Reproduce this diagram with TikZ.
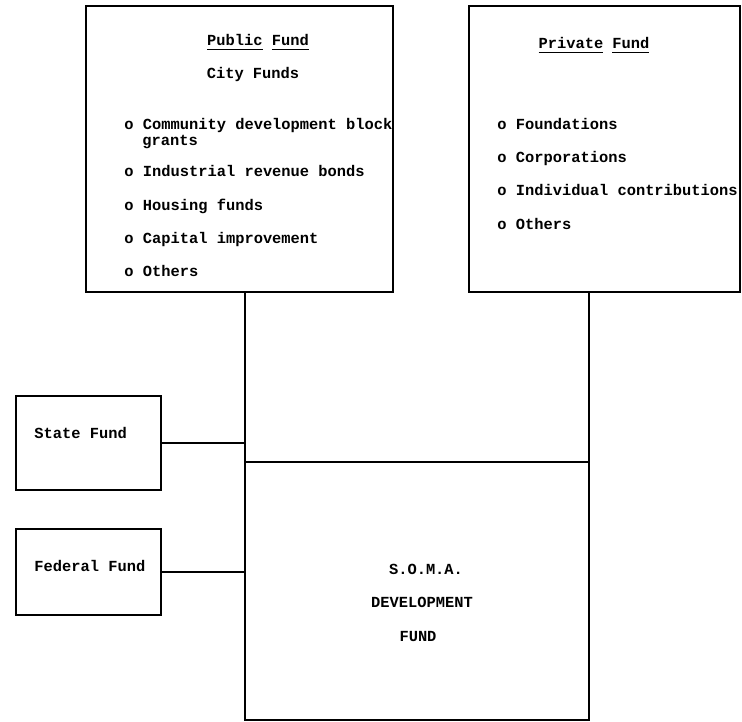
\documentclass[tikz,border=0pt]{standalone}
\usepackage{fontspec}
\setmonofont{Liberation Mono}
\usetikzlibrary{calc}
\tikzstyle{fund} = [rectangle, draw, line width=1.2pt, inner sep=0pt, outer sep=0pt]
\tikzstyle{conn} = [line width=1.2pt]
\tikzstyle{entry} = [inner sep=0pt, anchor=base west]
\tikzstyle{heading} = [inner sep=0pt, anchor=base]

\begin{document}
\begin{tikzpicture}[x=0.5pt, y=-0.5pt, font=\ttfamily\bfseries\fontsize{7.7}{9}\selectfont]
    \useasboundingbox (0,0) rectangle (742,721);
    \node[fund, minimum width=153.5pt, minimum height=143pt] (public) at (239.5,149) {};
    \node[fund, minimum width=135.5pt, minimum height=143pt] (private) at (604.5,149) {};
    \node[fund, minimum width=72.5pt, minimum height=47pt] (state) at (88.5,443) {};
    \node[fund, minimum width=72.5pt, minimum height=43pt] (federal) at (88.5,572) {};
    \node[fund, minimum width=172pt, minimum height=129pt] (soma) at (417,591) {};

    \node[heading] (pubname) at (258,46) {\underline{Public} \underline{Fund}};
    \node[heading] (city) at (253,79) {City Funds};
    \node[entry] (cdbg) at (124,130) {o Community development block};
    \node[entry] (cdbg2) at (142,146) {grants};
    \node[entry] (bonds) at (124,177) {o Industrial revenue bonds};
    \node[entry] (housing) at (124,211) {o Housing funds};
    \node[entry] (capital) at (124,243) {o Capital improvement};
    \node[entry] (pubother) at (124,276) {o Others};

    \node[heading] (privname) at (594,49) {\underline{Private} \underline{Fund}};
    \node[entry] (found) at (497,130) {o Foundations};
    \node[entry] (corp) at (497,163) {o Corporations};
    \node[entry] (indiv) at (497,196) {o Individual contributions};
    \node[entry] (privother) at (497,230) {o Others};

    \node[entry] (statename) at (34,438) {State Fund};
    \node[entry] (fedname) at (34,571) {Federal Fund};
    \node[heading] (soma1) at (426,574) {S.O.M.A.};
    \node[heading] (soma2) at (422,607) {DEVELOPMENT};
    \node[heading] (soma3) at (418,641) {FUND};

    \draw[conn] (soma.north west |- public.south) -- (soma.north west);
    \draw[conn] (soma.north east |- private.south) -- (soma.north east);
    \draw[conn] (state.east) -- (state.east -| soma.west);
    \draw[conn] (federal.east) -- (federal.east -| soma.west);
\end{tikzpicture}
\end{document}
